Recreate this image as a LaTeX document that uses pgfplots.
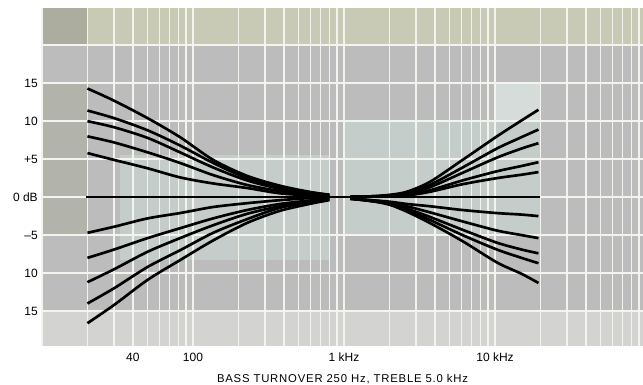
\documentclass[border=0pt]{standalone}
\usepackage{pgfplots}
\pgfplotsset{compat=1.18}
\usepackage{fontspec}
\setmainfont{Liberation Sans}
\definecolor{bg}{HTML}{BCBCBC}
\definecolor{topband}{HTML}{C9CAB6}
\definecolor{botband}{HTML}{D3D3D1}
\definecolor{greenish}{HTML}{C4CDC9}
\definecolor{darkblk}{HTML}{ACAD9F}
\definecolor{gridc}{HTML}{F4F4EE}

\pgfplotstableread{
f b1 b2 b3 b4 b5 c1 c2 c3 c4 c5
20 14.3 11.4 10.0 8.0 5.8 -4.7 -8.0 -11.2 -14.0 -16.6
30 12.7 10.4 9.2 7.2 4.9 -3.9 -6.9 -9.5 -12.0 -14.2
50 10.4 8.8 7.8 5.9 3.8 -2.8 -5.4 -7.2 -9.2 -10.9
82 7.9 6.8 5.9 4.5 2.6 -2.1 -4.1 -5.4 -7.0 -8.3
136 4.9 4.5 3.9 2.9 1.8 -1.3 -2.8 -3.7 -4.7 -5.7
228 2.8 2.5 2.2 1.6 1.2 -0.8 -1.7 -2.2 -2.9 -3.4
377 1.5 1.3 1.1 0.8 0.5 -0.4 -0.9 -1.2 -1.4 -1.8
623 0.6 0.6 0.5 0.3 0.2 -0.1 -0.4 -0.5 -0.6 -0.8
800 0.3 0.3 0.3 0.2 0.1 -0.1 -0.2 -0.3 -0.3 -0.4
}\bass

\pgfplotstableread{
f t1 t2 t3 t4 t5 u1 u2 u3 u4 u5
1100 0.1 0.1 0.1 0.0 0.0 -0.2 -0.2 -0.2 -0.2 -0.2
1500 0.1 0.1 0.1 0.1 0.1 -0.4 -0.4 -0.5 -0.5 -0.5
2000 0.3 0.2 0.2 0.1 0.1 -0.6 -0.7 -0.8 -0.9 -1.0
2600 0.7 0.5 0.4 0.3 0.2 -0.9 -1.2 -1.5 -1.7 -1.9
3700 2.0 1.6 1.3 0.9 0.7 -1.2 -2.0 -2.6 -3.0 -3.4
6100 4.9 3.9 3.2 2.2 1.7 -1.7 -3.2 -4.3 -5.0 -5.8
10300 8.0 6.4 5.2 3.4 2.5 -2.1 -4.4 -6.0 -6.9 -8.6
15000 10.1 7.9 6.4 4.1 2.95 -2.3 -5.0 -6.9 -8.0 -10.1
19400 11.5 8.9 7.1 4.6 3.3 -2.5 -5.4 -7.4 -8.7 -11.3
}\treble

\begin{document}
\begin{tikzpicture}
\begin{axis}[
  at={(0pt,0pt)}, anchor=south west,
  set layers,
  scale only axis, width=450.75pt, height=253.5pt,
  xmode=log, xmin=10, xmax=95500, ymin=-19.6, ymax=24.9,
  axis line style={draw=none},
  major tick length=0pt, minor tick length=0pt,
  xtick={40,100,1000,10000}, xticklabels={40,100,1 kHz,10 kHz},
  minor xtick={10,20,30,50,60,70,80,90,200,300,400,500,600,700,800,900,2000,3000,4000,5000,6000,7000,8000,9000,20000,30000,40000,50000,60000,70000,80000,90000},
  ytick={-15,-10,-5,0,5,10,15,20}, yticklabels={15,10,--5,0 dB,+5,10,15,{}},
  grid=both,
  major grid style={gridc, line width=1.3pt},
  minor grid style={gridc, line width=1.3pt},
  axis background/.style={fill=bg},
  xticklabel style={anchor=center, yshift=-8.25pt, font=\fontsize{9}{10}\selectfont},
  yticklabel style={anchor=east, inner sep=0pt, xshift=-3pt, font=\fontsize{9}{10}\selectfont},
  clip=true,
]
\begin{pgfonlayer}{axis background}
\fill[topband] (axis cs:10,20) rectangle (axis cs:95500,24.9);
\fill[darkblk] (axis cs:10,20) rectangle (axis cs:20,24.9);
\fill[botband] (axis cs:10,-19.6) rectangle (axis cs:95500,-15);
\fill[greenish] (axis cs:33,-8.3) rectangle (axis cs:810,5.5);
\fill[greenish] (axis cs:1000,-5) rectangle (axis cs:20000,10);
\fill[greenish!70!white] (axis cs:10000,10) rectangle (axis cs:20000,15);
\fill[darkblk!60!bg] (axis cs:10,-5) rectangle (axis cs:20,15);
\end{pgfonlayer}

\addplot[black, line width=2pt] coordinates {(19.6,0) (20000,0)};
\foreach \c in {b1,b2,b3,b4,b5,c1,c2,c3,c4,c5}{
  \addplot[black, line width=2pt, smooth] table[x=f, y=\c] {\bass};
}
\foreach \c in {t1,t2,t3,t4,t5,u1,u2,u3,u4,u5}{
  \addplot[black, line width=2pt, smooth] table[x=f, y=\c] {\treble};
}
\end{axis}
\node[font=\fontsize{8.5}{10}\selectfont\addfontfeature{LetterSpace=7}] at (225.375pt,-24.75pt) {BASS TURNOVER 250 Hz, TREBLE 5.0 kHz};
\pgfresetboundingbox
\path[use as bounding box] (-31.5pt,-29.25pt) rectangle (450.75pt,259.5pt);
\end{tikzpicture}
\end{document}
